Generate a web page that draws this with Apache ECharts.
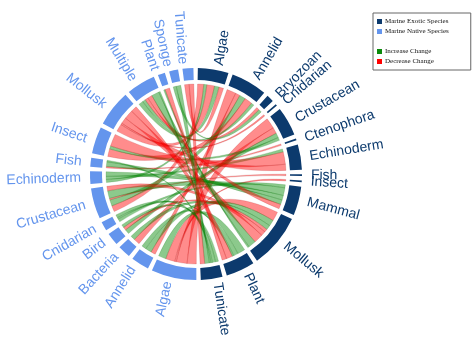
<!DOCTYPE html>
<html>
<head>
<meta charset="utf-8">
<style>
  html, body { margin: 0; padding: 0; background: #fff; }
  #chart { width: 473px; height: 338px; }
</style>
<script src="https://cdn.jsdelivr.net/npm/echarts@6.0.0/dist/echarts.min.js"></script>
</head>
<body>
<div id="chart"></div>
<script>
// Species groups, clockwise from the top
var exoticSpecies = ['Algae', 'Annelid', 'Bryozoan', 'Cnidarian', 'Crustacean', 'Ctenophora',
  'Echinoderm', 'Fish', 'Insect', 'Mammal', 'Mollusk', 'Plant', 'Tunicate'];
var nativeSpecies = ['Algae', 'Annelid', 'Bacteria', 'Bird', 'Cnidarian', 'Crustacean',
  'Echinoderm', 'Fish', 'Insect', 'Mollusk', 'Multiple', 'Plant', 'Sponge', 'Tunicate'];

// [exotic, native, value]
var increaseLinks = [
  ['Algae', 'Multiple', 3], ['Algae', 'Echinoderm', 2],
  ['Annelid', 'Crustacean', 4], ['Annelid', 'Multiple', 2],
  ['Bryozoan', 'Sponge', 2],
  ['Crustacean', 'Insect', 2], ['Crustacean', 'Bird', 3],
  ['Echinoderm', 'Echinoderm', 2],
  ['Mammal', 'Crustacean', 5], ['Mammal', 'Echinoderm', 3], ['Mammal', 'Fish', 3], ['Mammal', 'Cnidarian', 2],
  ['Mollusk', 'Multiple', 5], ['Mollusk', 'Annelid', 4], ['Mollusk', 'Bacteria', 3], ['Mollusk', 'Plant', 1],
  ['Plant', 'Algae', 5], ['Plant', 'Annelid', 3], ['Plant', 'Cnidarian', 1],
  ['Tunicate', 'Multiple', 1], ['Tunicate', 'Sponge', 3], ['Tunicate', 'Bird', 2],
  ['Tunicate', 'Cnidarian', 2], ['Tunicate', 'Fish', 1]
];
var decreaseLinks = [
  ['Algae', 'Crustacean', 4], ['Algae', 'Mollusk', 5], ['Algae', 'Tunicate', 3],
  ['Annelid', 'Insect', 5], ['Annelid', 'Algae', 6], ['Annelid', 'Annelid', 3],
  ['Bryozoan', 'Multiple', 2],
  ['Cnidarian', 'Mollusk', 1],
  ['Crustacean', 'Algae', 7], ['Crustacean', 'Bacteria', 4],
  ['Ctenophora', 'Fish', 1],
  ['Echinoderm', 'Insect', 8], ['Echinoderm', 'Mollusk', 4],
  ['Fish', 'Crustacean', 1],
  ['Insect', 'Algae', 1],
  ['Mammal', 'Multiple', 3],
  ['Mollusk', 'Mollusk', 6], ['Mollusk', 'Algae', 6], ['Mollusk', 'Crustacean', 3], ['Mollusk', 'Bird', 2],
  ['Plant', 'Mollusk', 4], ['Plant', 'Plant', 3],
  ['Tunicate', 'Tunicate', 3]
];

var EXOTIC_COLOR = '#0c3a6d';
var NATIVE_COLOR = '#6495ed';
// ribbon fill / thin ribbon outline
var INCREASE_FILL = 'rgba(0,135,0,0.45)';
var INCREASE_EDGE = 'rgba(0,100,0,0.4)';
var DECREASE_FILL = 'rgba(255,0,0,0.45)';
var DECREASE_EDGE = 'rgba(160,0,0,0.4)';
var LEGEND_GREEN = '#0a8a0a';
var LEGEND_RED = '#ff0000';

var CENTER = [196, 174];
var START_ANGLE = 89;
var PAD_ANGLE = 2.4;

// ---------- nodes & links ----------
function exoticId(n) { return 'Exotic ' + n; }
function nativeId(n) { return 'Native ' + n; }

var nodes = [];
exoticSpecies.forEach(function (n) { nodes.push({ id: exoticId(n), label: n, color: EXOTIC_COLOR }); });
nativeSpecies.forEach(function (n) { nodes.push({ id: nativeId(n), label: n, color: NATIVE_COLOR }); });

var rows = [];
increaseLinks.forEach(function (l) { rows.push([l[0], l[1], l[2], INCREASE_EDGE]); });
decreaseLinks.forEach(function (l) { rows.push([l[0], l[1], l[2], DECREASE_EDGE]); });
// sub-ribbons in index order at both ends, like a matrix chord layout
rows.sort(function (a, b) {
  return (exoticSpecies.indexOf(a[0]) - exoticSpecies.indexOf(b[0])) ||
    (nativeSpecies.indexOf(a[1]) - nativeSpecies.indexOf(b[1]));
});
var links = rows.map(function (r) {
  return { source: exoticId(r[0]), target: nativeId(r[1]), value: r[2],
    lineStyle: { color: r[3], width: 0.4 } };
});

// node totals, same rule the chord layout uses
var totals = {};
links.forEach(function (l) {
  totals[l.source] = (totals[l.source] || 0) + l.value;
  totals[l.target] = (totals[l.target] || 0) + l.value;
});
var grand = 0;
nodes.forEach(function (n) { grand += totals[n.id] || 0; });

// ring + labels as a pie, with transparent spacer slices sized like the chord padAngle
var gapValue = PAD_ANGLE * grand / (360 - nodes.length * PAD_ANGLE);
var ringData = [];
nodes.forEach(function (n) {
  ringData.push({
    name: n.id,
    value: totals[n.id] || 0,
    itemStyle: { color: n.color },
    label: { color: n.color, formatter: n.label }
  });
  ringData.push({
    name: n.id + ' gap',
    value: gapValue,
    itemStyle: { color: 'rgba(0,0,0,0)' },
    label: { show: false }
  });
});

var legendText = { fontFamily: 'Liberation Serif', fontSize: 7, color: '#111', padding: [0, 0, 0, -2] };

var chart = echarts.init(document.getElementById('chart'));

chart.setOption({
  backgroundColor: '#fff',
  animation: false,
  legend: [{
    orient: 'vertical',
    left: 373,
    top: 13,
    data: ['Marine Exotic Species', 'Marine Native Species'],
    icon: 'rect',
    itemWidth: 5,
    itemHeight: 5,
    itemGap: 3,
    padding: [5, 22, 35, 4],
    borderColor: '#666',
    borderWidth: 1,
    selectedMode: false,
    textStyle: legendText
  }, {
    orient: 'vertical',
    left: 373,
    top: 48,
    data: ['Increase Change', 'Decrease Change'],
    icon: 'rect',
    itemWidth: 5,
    itemHeight: 5,
    itemGap: 3,
    padding: [0, 22, 0, 4],
    selectedMode: false,
    textStyle: legendText
  }],
  grid: { show: false, left: 0, top: 0, width: 1, height: 1 },
  xAxis: { show: false, type: 'category' },
  yAxis: { show: false, type: 'value' },
  series: [
    { type: 'bar', name: 'Marine Exotic Species', data: [], itemStyle: { color: EXOTIC_COLOR } },
    { type: 'bar', name: 'Marine Native Species', data: [], itemStyle: { color: NATIVE_COLOR } },
    { type: 'bar', name: 'Increase Change', data: [], itemStyle: { color: LEGEND_GREEN } },
    { type: 'bar', name: 'Decrease Change', data: [], itemStyle: { color: LEGEND_RED } },
    {
      type: 'chord',
      center: CENTER,
      radius: [90, 91],
      startAngle: START_ANGLE,
      padAngle: PAD_ANGLE,
      clockwise: true,
      silent: true,
      itemStyle: { color: 'rgba(0,0,0,0)' },
      label: { show: false },
      lineStyle: { opacity: 1 },
      data: nodes.map(function (n) { return { name: n.id }; }),
      links: links
    },
    {
      type: 'pie',
      center: CENTER,
      radius: [94, 106],
      startAngle: START_ANGLE,
      clockwise: true,
      silent: true,
      avoidLabelOverlap: false,
      minShowLabelAngle: 0,
      labelLayout: { hideOverlap: false },
      label: {
        show: true,
        position: 'outside',
        rotate: 'radial',
        alignTo: 'none',
        fontFamily: 'Liberation Sans',
        fontSize: 14
      },
      labelLine: { show: false, length: 4, length2: 0 },
      data: ringData
    }
  ]
});

// The chord ribbon only takes its explicit lineStyle colour as a stroke,
// so give each ribbon its fill from that stroke colour.
var fillFor = {};
fillFor[INCREASE_EDGE] = INCREASE_FILL;
fillFor[DECREASE_EDGE] = DECREASE_FILL;
chart.getZr().storage.getDisplayList().forEach(function (el) {
  if (el.shape && el.shape.sStartAngle != null && fillFor[el.style.stroke]) {
    el.setStyle({ fill: fillFor[el.style.stroke] });
  }
});
chart.getZr().refreshImmediately();
</script>
</body>
</html>
